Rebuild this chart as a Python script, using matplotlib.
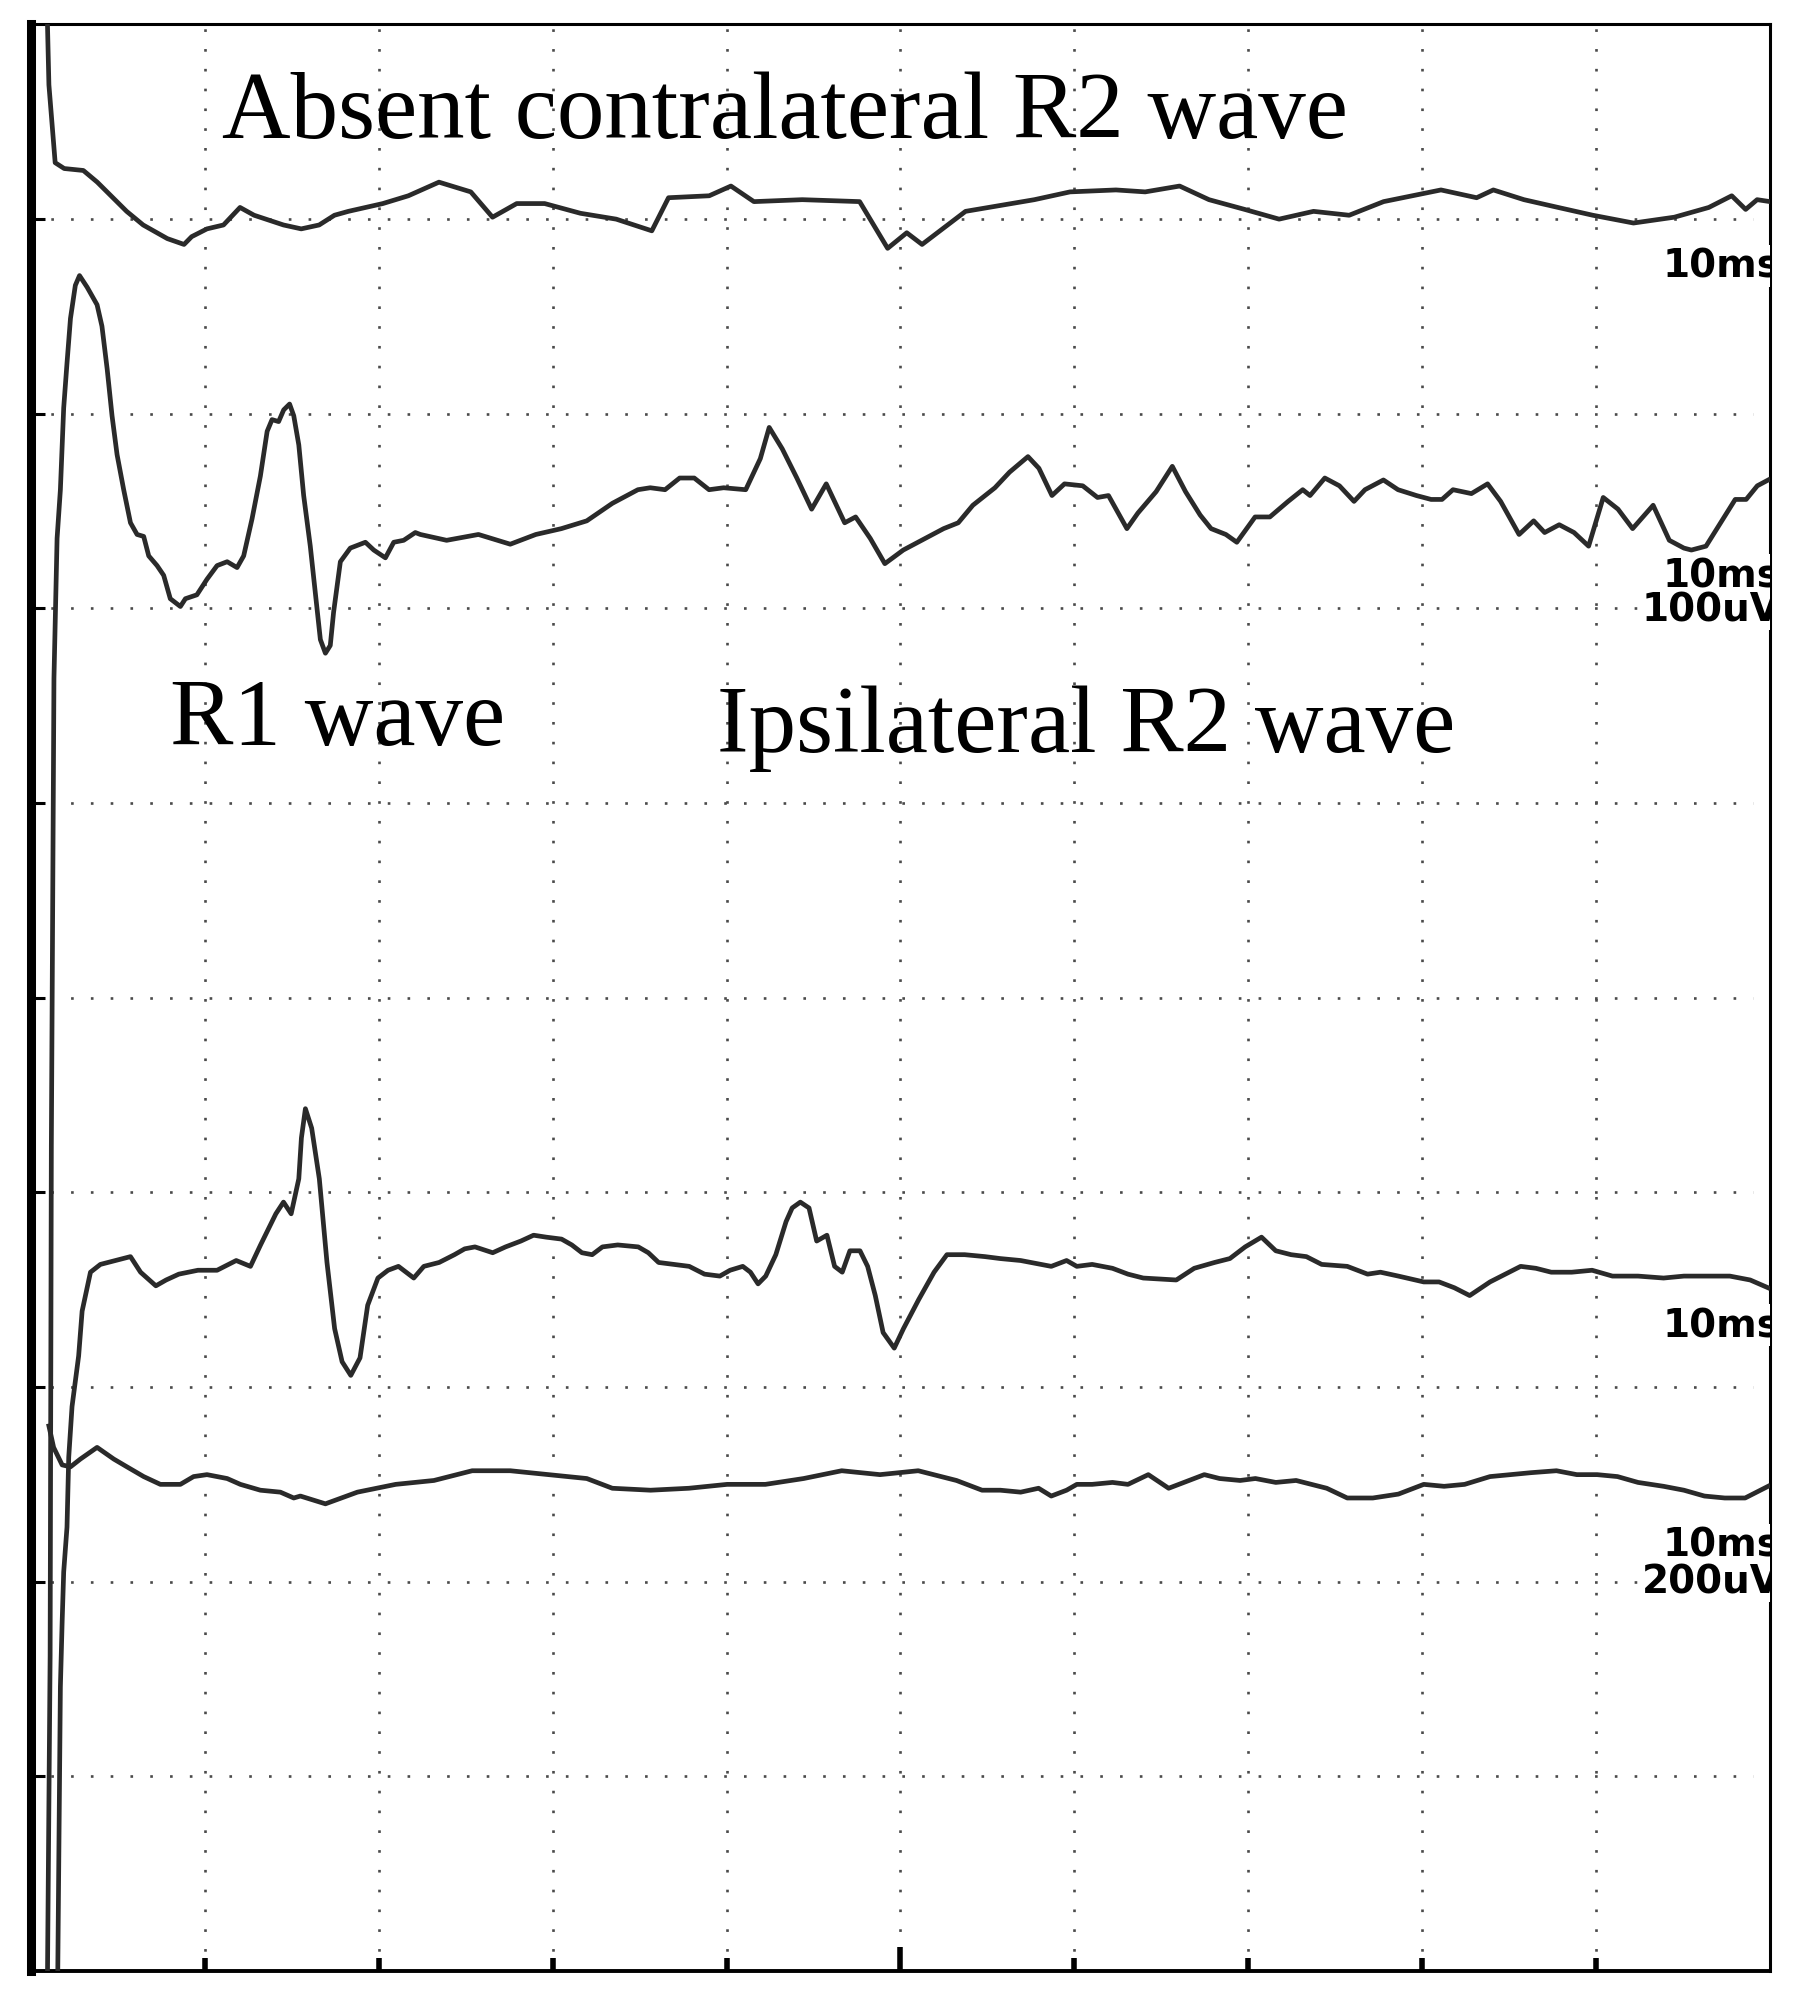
import matplotlib
matplotlib.use("Agg")
import matplotlib.pyplot as plt

# ---------------------------------------------
# Blink reflex recording, 10 ms/div, 4 sweeps
# time in ms, amplitude in screen divisions (0 = bottom, 10 = top)
# ---------------------------------------------

# sweep 1: contralateral (upper channel) - no R2
t1 = [0.95, 1.03, 1.39, 1.91, 3.01, 3.81, 5.50, 6.45, 7.84, 8.80, 9.24, 10.12, 11.07,
      12.02, 12.83, 14.52, 15.54, 16.57, 17.45, 18.25, 20.23, 21.70, 23.46, 25.29, 26.54,
      27.93, 29.54, 31.60, 33.65, 35.70, 36.66, 39.00, 40.25, 41.57, 44.35, 47.65, 49.26,
      50.36, 51.24, 53.74, 55.06, 57.70, 59.75, 62.39, 64.07, 66.05, 67.74, 69.79, 71.77,
      73.75, 75.80, 77.78, 81.08, 83.13, 84.09, 85.85, 87.82, 89.81, 92.15, 94.50, 96.48,
      97.80, 98.60, 99.26, 100.0]
v1 = [9.99, 9.69, 9.29, 9.26, 9.25, 9.19, 9.04, 8.97, 8.90, 8.87, 8.91, 8.95, 8.97,
      9.06, 9.02, 8.97, 8.95, 8.97, 9.02, 9.04, 9.08, 9.12, 9.19, 9.14, 9.01,
      9.08, 9.08, 9.03, 9.00, 8.94, 9.11, 9.12, 9.17, 9.09, 9.10, 9.09, 8.85,
      8.93, 8.87, 9.04, 9.06, 9.10, 9.14, 9.15, 9.14, 9.17, 9.10, 9.05, 9.00,
      9.04, 9.02, 9.09, 9.15, 9.11, 9.15, 9.10, 9.06, 9.02, 8.98, 9.01, 9.06,
      9.12, 9.05, 9.10, 9.09]

# sweep 2: ipsilateral (upper channel) - R1 and R2
t2 = [0.95, 1.10, 1.17, 1.32, 1.50, 1.69, 1.88, 2.07, 2.27, 2.55, 2.79, 3.23, 3.80,
      4.08, 4.38, 4.66, 4.95, 5.33, 5.72, 6.10, 6.48, 6.77, 7.25, 7.63, 8.01, 8.59,
      8.88, 9.54, 10.12, 10.70, 11.28, 11.85, 12.23, 12.71, 13.19, 13.58, 13.86, 14.24,
      14.53, 14.87, 15.11, 15.40, 15.68, 16.06, 16.36, 16.64, 16.93, 17.21, 17.40, 17.79,
      18.36, 19.23, 19.71, 20.38, 20.86, 21.43, 22.10, 22.39, 23.90, 25.73, 27.56, 29.03,
      30.50, 31.96, 33.43, 34.90, 35.61, 36.46, 37.30, 38.14, 38.99, 39.83, 41.10, 41.94,
      42.45, 43.20, 44.04, 44.89, 45.73, 46.79, 47.42, 48.26, 49.10, 50.16, 51.63, 52.48,
      53.32, 54.16, 55.43, 56.27, 57.33, 57.96, 58.71, 59.43, 60.48, 61.33, 61.96, 63.02,
      63.65, 64.70, 65.63, 66.39, 67.23, 67.86, 68.71, 69.34, 70.39, 71.24, 72.29, 73.13,
      73.55, 74.40, 75.24, 76.08, 76.71, 77.77, 78.61, 79.67, 80.51, 81.14, 81.77, 82.83,
      83.76, 84.51, 85.57, 86.41, 87.04, 87.88, 88.73, 89.57, 90.41, 91.26, 92.10, 93.28,
      94.21, 95.05, 95.48, 96.32, 97.16, 98.00, 98.63, 99.27, 99.90]
v2 = [0.00, 1.62, 4.24, 6.64, 7.36, 7.61, 8.03, 8.26, 8.49, 8.66, 8.71, 8.65, 8.56,
      8.45, 8.23, 7.99, 7.79, 7.61, 7.44, 7.38, 7.37, 7.27, 7.22, 7.17, 7.05, 7.01,
      7.05, 7.07, 7.15, 7.22, 7.24, 7.21, 7.27, 7.46, 7.68, 7.91, 7.97, 7.96,
      8.02, 8.05, 7.99, 7.84, 7.58, 7.32, 7.07, 6.84, 6.77, 6.81, 6.98, 7.24,
      7.31, 7.34, 7.30, 7.26, 7.34, 7.35, 7.39, 7.38, 7.35, 7.38, 7.33, 7.38,
      7.41, 7.45, 7.54, 7.61, 7.62, 7.61, 7.67, 7.67, 7.61, 7.62, 7.61, 7.77,
      7.93, 7.82, 7.67, 7.51, 7.64, 7.44, 7.47, 7.36, 7.23, 7.30, 7.37, 7.41,
      7.44, 7.53, 7.62, 7.70, 7.78, 7.72, 7.58, 7.64, 7.63, 7.57, 7.58, 7.41,
      7.49, 7.60, 7.73, 7.60, 7.48, 7.41, 7.38, 7.34, 7.47, 7.47, 7.55, 7.61,
      7.58, 7.67, 7.63, 7.55, 7.61, 7.66, 7.61, 7.58, 7.56, 7.56, 7.61, 7.59,
      7.64, 7.55, 7.38, 7.45, 7.39, 7.43, 7.39, 7.32, 7.57, 7.51, 7.41, 7.53,
      7.35, 7.31, 7.30, 7.32, 7.44, 7.56, 7.56, 7.63, 7.66]

# sweep 3: ipsilateral (lower channel)
t3 = [1.54, 1.69, 1.79, 1.88, 2.07, 2.17, 2.36, 2.74, 2.94, 3.42, 3.99, 5.72, 6.30,
      7.18, 7.77, 8.50, 9.60, 10.70, 11.80, 12.62, 13.20, 14.08, 14.52, 14.96, 15.40,
      15.55, 15.78, 16.14, 16.58, 17.02, 17.46, 17.89, 18.39, 18.92, 19.36, 19.95, 20.53,
      21.13, 22.01, 22.59, 23.47, 24.35, 24.94, 25.53, 26.55, 27.29, 28.17, 28.90, 29.63,
      30.51, 31.10, 31.68, 32.27, 32.86, 33.74, 34.92, 35.50, 36.09, 36.97, 37.85, 38.73,
      39.61, 40.20, 40.93, 41.37, 41.81, 42.25, 42.83, 43.42, 43.77, 44.24, 44.74, 45.18,
      45.77, 46.21, 46.65, 47.09, 47.67, 48.11, 48.55, 49.00, 49.64, 50.17, 51.05, 51.93,
      52.67, 53.69, 54.86, 55.74, 56.91, 58.08, 58.67, 59.55, 60.14, 61.02, 62.19, 63.08,
      63.96, 65.86, 66.89, 68.06, 68.94, 69.82, 70.76, 71.58, 72.46, 73.34, 74.22, 75.69,
      76.86, 77.60, 78.63, 80.09, 80.97, 81.85, 82.73, 83.90, 84.78, 85.66, 86.54, 87.42,
      88.60, 89.77, 90.94, 92.41, 93.88, 95.05, 96.23, 97.69, 98.86, 99.89]
v3 = [0.00, 1.46, 1.79, 2.05, 2.28, 2.64, 2.90, 3.16, 3.39, 3.59, 3.63, 3.67, 3.59,
      3.52, 3.55, 3.58, 3.60, 3.60, 3.65, 3.62, 3.73, 3.89, 3.95, 3.89, 4.07,
      4.28, 4.43, 4.33, 4.07, 3.64, 3.30, 3.13, 3.06, 3.15, 3.42, 3.56, 3.60,
      3.62, 3.56, 3.62, 3.64, 3.68, 3.71, 3.72, 3.69, 3.72, 3.75, 3.78, 3.77,
      3.76, 3.73, 3.69, 3.68, 3.72, 3.73, 3.72, 3.69, 3.64, 3.63, 3.62, 3.58,
      3.57, 3.60, 3.62, 3.59, 3.53, 3.57, 3.68, 3.85, 3.92, 3.95, 3.92, 3.75,
      3.78, 3.62, 3.59, 3.70, 3.70, 3.62, 3.47, 3.28, 3.20, 3.30, 3.45, 3.59,
      3.68, 3.68, 3.67, 3.66, 3.65, 3.63, 3.62, 3.65, 3.62, 3.63, 3.61, 3.58,
      3.56, 3.55, 3.61, 3.64, 3.66, 3.72, 3.77, 3.70, 3.68, 3.67, 3.63, 3.62,
      3.58, 3.59, 3.57, 3.54, 3.54, 3.51, 3.47, 3.54, 3.58, 3.62, 3.61, 3.59,
      3.59, 3.60, 3.57, 3.57, 3.56, 3.57, 3.57, 3.57, 3.55, 3.51]

# sweep 4: contralateral (lower channel)
t4 = [1.03, 1.30, 1.79, 2.27, 2.84, 3.80, 4.76, 5.52, 6.48, 7.44, 8.59, 9.35, 10.12,
      11.28, 12.04, 13.19, 14.34, 15.11, 15.49, 16.93, 18.77, 20.97, 23.17, 25.37, 27.56,
      29.76, 31.96, 33.43, 35.63, 37.83, 40.03, 42.23, 44.43, 46.62, 48.82, 51.02, 53.22,
      54.69, 55.74, 56.91, 57.94, 58.67, 59.55, 60.14, 61.02, 62.19, 63.08, 64.25, 65.42,
      66.30, 67.47, 68.35, 69.53, 70.41, 71.58, 72.75, 73.63, 74.51, 75.69, 77.16, 78.63,
      80.09, 81.26, 82.44, 83.90, 85.08, 86.25, 87.72, 88.89, 90.06, 91.23, 92.41, 93.88,
      95.05, 96.23, 97.40, 98.57, 99.89]
v4 = [2.80, 2.69, 2.60, 2.59, 2.63, 2.69, 2.63, 2.59, 2.54, 2.50, 2.50, 2.54, 2.55,
      2.53, 2.50, 2.47, 2.46, 2.43, 2.44, 2.40, 2.46, 2.50, 2.52, 2.57, 2.57,
      2.55, 2.53, 2.48, 2.47, 2.48, 2.50, 2.50, 2.53, 2.57, 2.55, 2.57, 2.52,
      2.47, 2.47, 2.46, 2.48, 2.44, 2.47, 2.50, 2.50, 2.51, 2.50, 2.55, 2.48,
      2.51, 2.55, 2.53, 2.52, 2.53, 2.51, 2.52, 2.50, 2.48, 2.43, 2.43, 2.45,
      2.50, 2.49, 2.50, 2.54, 2.55, 2.56, 2.57, 2.55, 2.55, 2.54, 2.51, 2.49,
      2.47, 2.44, 2.43, 2.43, 2.49]

sweeps = [(t1, v1), (t2, v2), (t3, v3), (t4, v4)]

# scale labels on the right: (text, baseline in axes fraction)
scale_labels = [("10ms", 0.8703), ("10ms", 0.7115), ("100uV", 0.6936),
                ("10ms", 0.3262), ("10ms", 0.2132), ("200uV", 0.1947)]

# -------------------------------
# Figure
# -------------------------------
fig = plt.figure(figsize=(17.99, 19.99), dpi=100)
ax = fig.add_axes([0.01723, 0.01351, 0.96665, 0.97374])
ax.set_xlim(0, 100)
ax.set_ylim(0, 10)

# dotted screen grid, 10 x 10 divisions
grid_style = dict(color="#4a4a4a", lw=1.9, dashes=(1, 6.5), zorder=1)
for gx in range(10, 100, 10):
    ax.axvline(gx, **grid_style)
for gy in range(1, 10):
    ax.axhline(gy, xmin=0.0, xmax=0.99, **grid_style)

# traces
for t, v in sweeps:
    ax.plot(t, v, color="#2a2a2a", lw=3.4, solid_joinstyle="round", zorder=3)

# frame
for side in ["top", "right"]:
    ax.spines[side].set_linewidth(2.2)
ax.spines["bottom"].set_linewidth(2.8)
ax.spines["left"].set_linewidth(6.5)

ax.set_xticks(range(10, 100, 10))
ax.set_yticks(range(1, 10))
ax.set_xticklabels([])
ax.set_yticklabels([])
ax.tick_params(axis="x", direction="in", length=9.5, width=4.0, color="black")
ax.tick_params(axis="y", direction="in", length=10, width=2.2, color="black")
# the 50 ms tick is drawn taller
ax.xaxis.get_major_ticks()[4].tick1line.set_markersize(17)

# annotations
big = dict(family="Liberation Serif", fontsize=68.4, color="black", va="baseline",
           transform=ax.transAxes, zorder=5)
ax.text(0.1098, 0.9422, "Absent contralateral R2 wave", **big)
ax.text(0.0799, 0.6304, "R1 wave", **big)
ax.text(0.3945, 0.6268, "Ipsilateral R2 wave", **big)

for lab, yb in scale_labels:
    ax.text(1.006, yb, lab, family="DejaVu Sans", fontweight="heavy", fontsize=28,
            ha="right", va="baseline", transform=ax.transAxes, clip_on=True, zorder=4,
            bbox=dict(facecolor="white", edgecolor="none", pad=1.0))

fig.savefig("out.png", dpi=100)
